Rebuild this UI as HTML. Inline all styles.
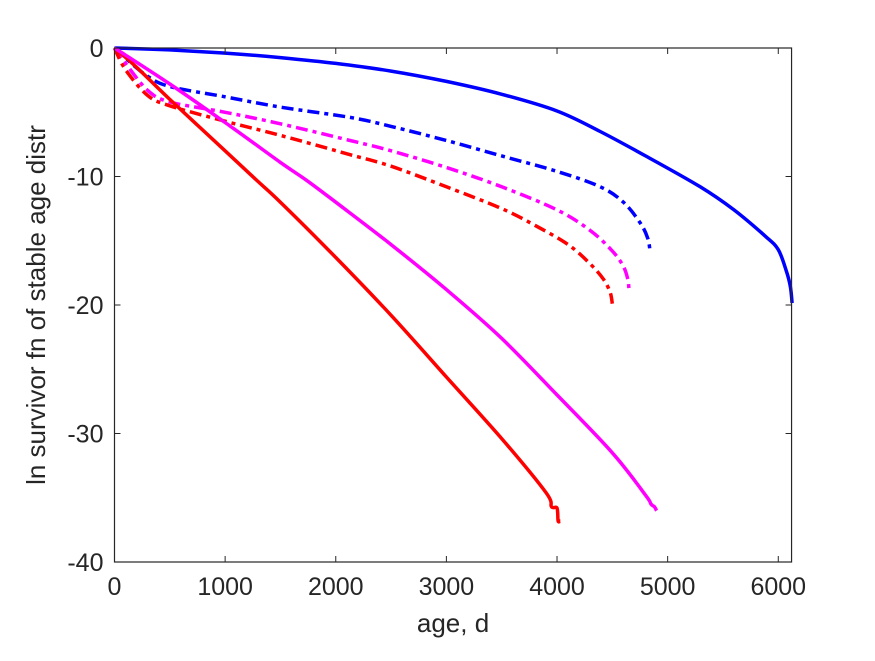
<!DOCTYPE html>
<html><head><meta charset="utf-8"><style>
body{margin:0;background:#fff;width:875px;height:656px;overflow:hidden}
text{font-family:"Liberation Sans",sans-serif;fill:#262626}
</style></head><body>
<svg id="chart" width="875" height="656" viewBox="0 0 875 656"></svg>
<script>
const xTicks=[0,1000,2000,3000,4000,5000,6000];
const yTicks=[0,-10,-20,-30,-40];
const blueSolidX=[0,500,1000,1500,2000,2500,3000,3500,4000,4390,4800,5294,5600,5890,6000,6071,6110,6125];
const blueSolidY=[0,-0.15,-0.4,-0.75,-1.2,-1.8,-2.6,-3.6,-4.9,-6.5,-8.4,-10.8,-12.6,-14.7,-15.7,-17.3,-18.6,-19.85];
const blueDashX=[0,100,300,500,1000,1500,2130,2500,3000,3500,4000,4390,4600,4751,4820,4841];
const blueDashY=[0,-0.8,-2.2,-3.0,-3.8,-4.6,-5.4,-6.1,-7.2,-8.4,-9.6,-10.8,-12.0,-13.6,-14.8,-15.85];
const magDashX=[0,100,300,500,1000,1500,2130,2500,3000,3500,4000,4300,4500,4600,4640,4650];
const magDashY=[0,-1.2,-3.3,-4.2,-5.0,-5.9,-7.2,-8.0,-9.3,-10.8,-12.6,-14.2,-15.8,-17.0,-18.0,-18.7];
const redDashX=[0,100,300,500,1000,1500,2130,2500,3000,3500,3800,4100,4300,4420,4480,4500];
const redDashY=[0,-1.7,-3.7,-4.5,-5.7,-6.8,-8.3,-9.2,-10.8,-12.5,-13.8,-15.3,-16.8,-18.0,-19.0,-19.9];
const redSolidX=[0,200,500,1000,1286,1500,2000,2500,3000,3500,3900,3950,4000,4010,4030];
const redSolidY=[0,-1.5,-4,-8,-10.3,-12,-16.3,-20.8,-25.6,-30.4,-34.6,-35.7,-35.8,-36.8,-36.8];
const magSolidX=[0,500,1000,1500,1737,2000,2500,3000,3500,4000,4500,4800,4850,4880,4900];
const magSolidY=[0,-2.8,-5.8,-8.9,-10.3,-12,-15.3,-18.8,-22.6,-27.0,-31.5,-34.8,-35.5,-35.7,-36];
const X0=114.5,XS=110.63/1000,Y0=48,YS=12.85,XMAX=6120;
const sx=v=>X0+v*XS, sy=v=>Y0-v*YS;
const svg=document.getElementById('chart');const NS='http://www.w3.org/2000/svg';
function mk(t,a,p){const e=document.createElementNS(NS,t);for(const k in a)e.setAttribute(k,a[k]);(p||svg).appendChild(e);return e;}
function smooth(pts){let d='M'+pts[0][0].toFixed(1)+','+pts[0][1].toFixed(1);
for(let i=0;i<pts.length-1;i++){const p0=pts[Math.max(0,i-1)],p1=pts[i],p2=pts[i+1],p3=pts[Math.min(pts.length-1,i+2)];
const c1=[p1[0]+(p2[0]-p0[0])/6,p1[1]+(p2[1]-p0[1])/6],c2=[p2[0]-(p3[0]-p1[0])/6,p2[1]-(p3[1]-p1[1])/6];
d+='C'+c1[0].toFixed(1)+','+c1[1].toFixed(1)+' '+c2[0].toFixed(1)+','+c2[1].toFixed(1)+' '+p2[0].toFixed(1)+','+p2[1].toFixed(1);}
return d;}
const R=sx(XMAX),B=sy(-40);
const series=[[blueSolidX,blueSolidY,'#0000ff',''],[blueDashX,blueDashY,'#0000ff','12 5 4 5'],[magDashX,magDashY,'#ff00ff','12 5 4 5'],[redDashX,redDashY,'#ff0000','12 5 4 5'],[redSolidX,redSolidY,'#ff0000',''],[magSolidX,magSolidY,'#ff00ff','']];
const names=['blue-solid-line','blue-dashdot-line','magenta-dashdot-line','red-dashdot-line','red-solid-line','magenta-solid-line'];
series.forEach((s,i)=>{const pts=s[0].map((x,j)=>[sx(x),sy(s[1][j])]);
const p=mk('path',{d:smooth(pts),fill:'none',stroke:s[2],'stroke-width':3.5,'stroke-dasharray':s[3],'stroke-linejoin':'round'});

});
const box=mk('rect',{x:X0,y:Y0,width:R-X0,height:B-Y0,fill:'none',stroke:'#262626','stroke-width':1.2});


xTicks.forEach(t=>{const x=sx(t);mk('line',{x1:x,x2:x,y1:B,y2:B-6,stroke:'#262626'});mk('line',{x1:x,x2:x,y1:Y0,y2:Y0+6,stroke:'#262626'});
const tx=mk('text',{x:x,y:B+33,'font-size':25,'text-anchor':'middle'});tx.textContent=t;

});
yTicks.forEach(t=>{const y=sy(t);mk('line',{x1:X0,x2:X0+6,y1:y,y2:y,stroke:'#262626'});mk('line',{x1:R,x2:R-6,y1:y,y2:y,stroke:'#262626'});
const tx=mk('text',{x:X0-11,y:y+9,'font-size':25,'text-anchor':'end'});tx.textContent=t;

});
const xl=mk('text',{x:(X0+R)/2,y:632,'font-size':26,'text-anchor':'middle'});xl.textContent='age, d';


const yl=mk('text',{x:0,y:0,'font-size':26,'text-anchor':'middle',transform:'translate(45,'+((Y0+B)/2)+') rotate(-90)'});yl.textContent='ln survivor fn of stable age distr';


</script>
</body></html>
